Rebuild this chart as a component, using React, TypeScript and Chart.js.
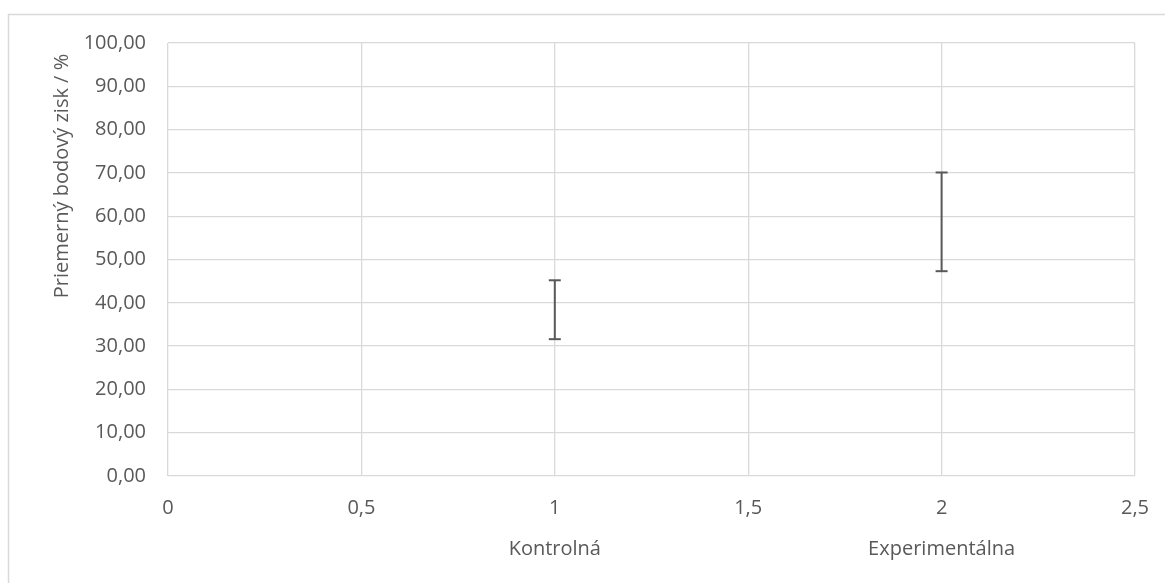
import React, { useEffect, useRef } from "react";
import { Chart, registerables } from "chart.js";

Chart.register(...registerables);

const categories = ["Kontrolná", "Experimentálna"];
const xPositions = [1, 2];
const lowValues = [31.6, 47.3];
const highValues = [45.2, 70.1];
const yTitle = "Priemerný bodový zisk / %";

const FONT = "'Open Sans', 'Noto Sans', sans-serif";
const TEXT = "#595959";
const GRID = "#d9d9d9";

const fmtComma = (v: number, d: number) => v.toFixed(d).replace(".", ",");

const decorPlugin = {
  id: "decor",
  beforeDraw(chart: any) {
    const { ctx } = chart;
    ctx.save();
    ctx.fillStyle = "#ffffff";
    ctx.fillRect(0, 0, chart.width, chart.height);
    ctx.strokeStyle = GRID;
    ctx.lineWidth = 1.5;
    ctx.strokeRect(8.5, 14.5, chart.width + 20, chart.height + 20);
    ctx.restore();
  },
  afterDraw(chart: any) {
    const { ctx } = chart;
    const xs = chart.scales.x;
    ctx.save();
    ctx.fillStyle = TEXT;
    ctx.font = `20px ${FONT}`;
    ctx.textAlign = "center";
    ctx.textBaseline = "middle";
    categories.forEach((c, i) => {
      ctx.fillText(c, xs.getPixelForValue(xPositions[i]), 549);
    });
    ctx.translate(62, 176);
    ctx.rotate(-Math.PI / 2);
    ctx.fillText(yTitle, 0, 0);
    ctx.restore();
  },
};

export default function App() {
  const ref = useRef<HTMLCanvasElement | null>(null);
  useEffect(() => {
    document.body.style.margin = "0";
    const canvas = ref.current!;
    const datasets = categories.map((c, i) => ({
      label: c,
      data: [
        { x: xPositions[i], y: lowValues[i] },
        { x: xPositions[i], y: highValues[i] },
      ],
      showLine: true,
      borderColor: "#595959",
      borderWidth: 2,
      pointStyle: "line" as const,
      pointRadius: 6,
      pointHoverRadius: 6,
      pointBorderColor: "#595959",
      pointBorderWidth: 2,
    }));
    const chart = new Chart(canvas, {
      type: "scatter",
      data: { datasets },
      plugins: [decorPlugin],
      options: {
        animation: false,
        responsive: false,
        events: [],
        layout: { padding: { left: 0, top: 43, right: 30, bottom: 0 } },
        plugins: { legend: { display: false }, tooltip: { enabled: false } },
        scales: {
          x: {
            type: "linear",
            min: 0,
            max: 2.5,
            afterFit: (s: any) => {
              s.height = 107;
              s.paddingLeft = 0;
              s.paddingRight = 0;
            },
            ticks: {
              stepSize: 0.5,
              color: TEXT,
              font: { family: FONT, size: 20 },
              padding: 20,
              callback: (v: any) => (Number.isInteger(v) ? String(v) : fmtComma(Number(v), 1)),
            },
            grid: { color: GRID, lineWidth: 1.3, drawTicks: false },
            border: { display: false },
          },
          y: {
            min: 0,
            max: 100,
            afterFit: (s: any) => {
              s.width = 168;
              s.paddingTop = 0;
              s.paddingBottom = 0;
            },
            ticks: {
              stepSize: 10,
              color: TEXT,
              font: { family: FONT, size: 20 },
              padding: 22,
              callback: (v: any) => fmtComma(Number(v), 2),
            },
            grid: { color: GRID, lineWidth: 1.3, drawTicks: false },
            border: { display: false },
          },
        },
      },
    });
    return () => chart.destroy();
  }, []);
  return <canvas ref={ref} width={1165} height={583} style={{ display: "block" }} />;
}
